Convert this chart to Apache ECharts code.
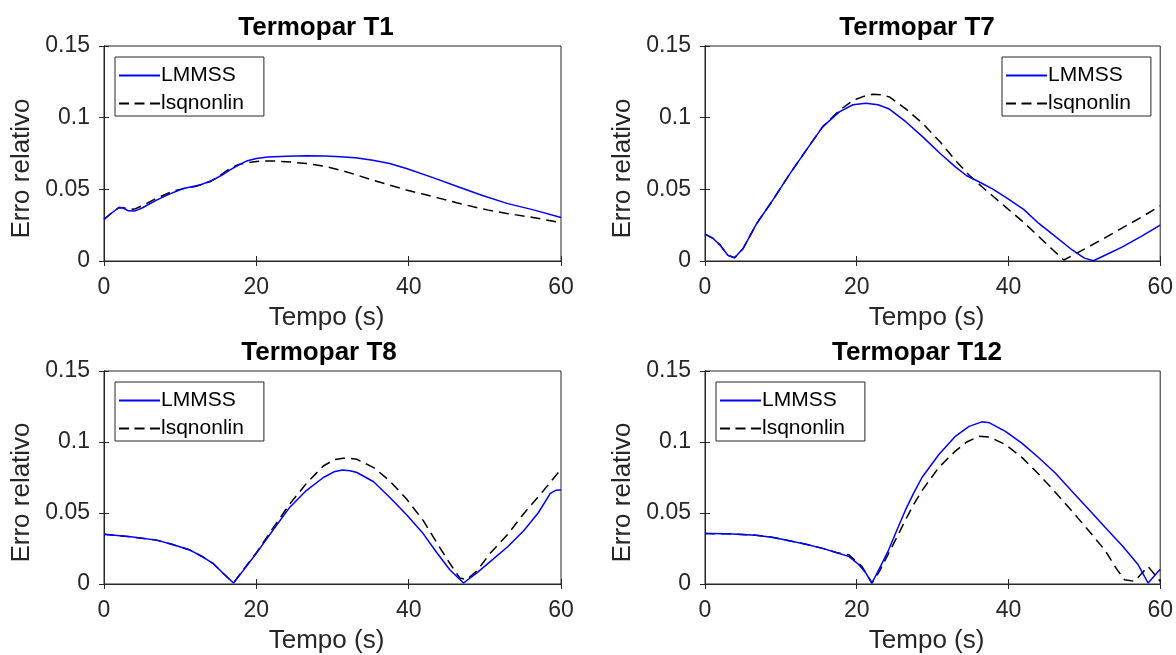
<!DOCTYPE html>
<html>
<head>
<meta charset="utf-8">
<script src="https://cdn.jsdelivr.net/npm/echarts@6/dist/echarts.min.js"></script>
<style>
html,body{margin:0;padding:0;background:#fff;}
#chart{width:1176px;height:655px;}
</style>
</head>
<body>
<div id="chart"></div>
<script>
// ---- Data ----
const titles = ['Termopar T1', 'Termopar T7', 'Termopar T8', 'Termopar T12'];
const seriesNames = ['LMMSS', 'lsqnonlin'];
const xTickLabels = ['0', '20', '40', '60'];
const xTickValues = [0, 20, 40, 60];
const yTickLabels = ['0', '0.05', '0.1', '0.15'];
const yTickValues = [0, 0.05, 0.1, 0.15];
const xName = 'Tempo (s)';
const yName = 'Erro relativo';

// Termopar T1
const t1LmT = [0, 1, 2, 2.5, 3.2, 4, 5, 6.9, 8.5, 10.4, 12.6, 14.3, 15.5, 16.5, 17.6, 18.7, 20, 21.5, 24, 26.6, 29, 31, 33, 35.3, 37.5, 39.7, 43, 46.3, 49.5, 52.9, 56.5, 60];
const t1LmV = [0.029, 0.0335, 0.0374, 0.037, 0.035, 0.0348, 0.037, 0.0425, 0.0465, 0.0506, 0.053, 0.0564, 0.06, 0.0634, 0.0668, 0.0697, 0.0715, 0.0725, 0.0731, 0.0734, 0.0732, 0.0727, 0.072, 0.0703, 0.068, 0.0645, 0.0585, 0.0522, 0.046, 0.0402, 0.0355, 0.0304];
const t1LsT = [0, 1, 2, 2.5, 3.4, 4, 5, 6.9, 9.1, 10.5, 12.1, 13.9, 15.2, 16.5, 17.6, 18.7, 20, 21.5, 22.6, 24.5, 26.6, 29, 31, 33, 35.3, 37.5, 39.7, 42, 44.1, 46.3, 48.5, 50.5, 52.9, 56.5, 60];
const t1LsV = [0.029, 0.0335, 0.0374, 0.0372, 0.036, 0.0362, 0.0385, 0.0437, 0.0488, 0.0505, 0.0522, 0.0553, 0.0595, 0.0645, 0.0672, 0.0685, 0.0695, 0.0698, 0.0697, 0.069, 0.068, 0.066, 0.0634, 0.0603, 0.0564, 0.053, 0.0495, 0.0465, 0.0437, 0.0407, 0.0378, 0.0355, 0.0332, 0.0302, 0.0267];

// Termopar T7
const t7LmT = [0, 1, 2, 3, 3.9, 5, 6.8, 9, 11.2, 13.3, 15.5, 17.7, 19.5, 21.2, 22.8, 24.3, 26.5, 28.7, 31, 33, 34.5, 36.1, 38, 39.6, 42, 44, 46.2, 48.4, 50, 51.2, 53, 54.9, 57.5, 60];
const t7LmV = [0.0188, 0.016, 0.0111, 0.004, 0.0023, 0.0085, 0.026, 0.043, 0.061, 0.077, 0.0936, 0.104, 0.109, 0.110, 0.109, 0.106, 0.097, 0.0866, 0.075, 0.0657, 0.0595, 0.0553, 0.050, 0.0445, 0.036, 0.0262, 0.017, 0.0077, 0.002, 0.0002, 0.0047, 0.0095, 0.0172, 0.025];
const t7LsT = [0, 1, 2, 3, 3.9, 5, 6.8, 9, 11.2, 13.3, 15.5, 17.7, 19.5, 21, 22.1, 23.2, 24.3, 26.5, 28.7, 31, 33, 34.8, 36.5, 38, 39.6, 42, 44, 45.8, 47.3, 49, 50.6, 53, 54.9, 57.5, 60];
const t7LsV = [0.0188, 0.016, 0.0111, 0.004, 0.0023, 0.0085, 0.026, 0.043, 0.061, 0.077, 0.0936, 0.105, 0.112, 0.115, 0.1163, 0.116, 0.1145, 0.106, 0.0959, 0.083, 0.0703, 0.060, 0.0518, 0.045, 0.0378, 0.027, 0.017, 0.008, 0.0007, 0.0055, 0.010, 0.017, 0.0228, 0.0305, 0.0385];

// Termopar T8
const t8LmT = [0, 3.5, 6.9, 9, 11.3, 13, 14.3, 15.6, 17, 18.5, 20, 22.2, 24.4, 26.6, 28.8, 30.2, 31.3, 32.3, 33.2, 35.4, 37.5, 39.7, 41.9, 43.7, 45.4, 47.2, 49, 50.7, 53, 55.1, 57, 58.6, 59.3, 60];
const t8LmV = [0.0351, 0.0332, 0.0309, 0.0278, 0.0239, 0.019, 0.0146, 0.0077, 0.0007, 0.011, 0.0216, 0.038, 0.0541, 0.066, 0.075, 0.079, 0.0803, 0.0798, 0.0785, 0.072, 0.0611, 0.049, 0.0355, 0.022, 0.010, 0.0007, 0.008, 0.0158, 0.0262, 0.0375, 0.050, 0.0638, 0.066, 0.0662];
const t8LsT = [0, 3.5, 6.9, 9, 11.3, 13, 14.3, 15.6, 17, 18.5, 20, 22.2, 24.4, 26.6, 28.8, 30.2, 31.4, 32.3, 33.2, 35.4, 37.5, 39.7, 41.9, 43.7, 45.4, 46.7, 47.6, 49, 50.7, 53, 55.1, 57.5, 60];
const t8LsV = [0.0351, 0.0332, 0.0309, 0.0278, 0.0239, 0.019, 0.0146, 0.0077, 0.0007, 0.0115, 0.022, 0.0395, 0.0564, 0.071, 0.0831, 0.0875, 0.0885, 0.0884, 0.0878, 0.082, 0.0727, 0.060, 0.0448, 0.029, 0.0146, 0.0042, 0.003, 0.0095, 0.0216, 0.035, 0.0495, 0.0645, 0.0808];

// Termopar T12
const t12LmT = [0, 3, 6.7, 9, 11.1, 13.3, 15.5, 17.3, 19, 20.2, 21.2, 22, 23, 24.2, 25.3, 26.4, 27.5, 28.6, 30.8, 33, 34.8, 36.5, 37.5, 39.6, 41.8, 44, 46.2, 48.3, 50.5, 52.7, 55, 57.1, 58.4, 60];
const t12LmV = [0.0355, 0.0353, 0.0344, 0.0328, 0.0304, 0.028, 0.0251, 0.0222, 0.0193, 0.014, 0.0077, 0.0007, 0.011, 0.0239, 0.038, 0.0518, 0.064, 0.075, 0.091, 0.104, 0.111, 0.1142, 0.1135, 0.1075, 0.099, 0.0889, 0.078, 0.0657, 0.053, 0.0402, 0.027, 0.0135, 0.0007, 0.0104];
const t12LsT = [0, 3, 6.7, 9, 11.1, 13.3, 15.5, 17.3, 19, 20.7, 22, 23, 24.2, 25.3, 26.4, 27.5, 28.6, 30.8, 33, 34.5, 36.1, 37.5, 39.6, 41.8, 44, 46.2, 48.3, 50.5, 52.7, 54.2, 55.3, 56.6, 58.4, 60];
const t12LsV = [0.0355, 0.0353, 0.0344, 0.0328, 0.0304, 0.028, 0.0251, 0.0222, 0.0204, 0.0123, 0.0007, 0.009, 0.0216, 0.033, 0.0448, 0.056, 0.0657, 0.082, 0.0936, 0.100, 0.104, 0.1035, 0.0982, 0.089, 0.0773, 0.0645, 0.0518, 0.038, 0.0239, 0.011, 0.003, 0.0019, 0.0123, 0.0019];

const panelData = [
  [[t1LmT, t1LmV], [t1LsT, t1LsV]],
  [[t7LmT, t7LmV], [t7LsT, t7LsV]],
  [[t8LmT, t8LmV], [t8LsT, t8LsV]],
  [[t12LmT, t12LmV], [t12LsT, t12LsV]]
];

// ---- Layout ----
const FONT = '"Liberation Sans", Arial, Helvetica, sans-serif';
const AX = '#262626';
const grids = [
  {left: 104, top: 46, width: 457, height: 215},
  {left: 705, top: 46, width: 457, height: 215},
  {left: 104, top: 371, width: 457, height: 215},
  {left: 705, top: 371, width: 457, height: 215}
];
const titlePos = [{x: 311, y: 10}, {x: 912, y: 10}, {x: 314, y: 335}, {x: 912, y: 335}];
const legendPos = [
  {left: 115, top: 57}, {left: 1002, top: 57},
  {left: 115, top: 382}, {left: 716, top: 382}
];

const option = {
  animation: false,
  backgroundColor: '#ffffff',
  title: [], grid: [], xAxis: [], yAxis: [], legend: [], series: []
};

function fmt(vals, labels) {
  return function (v) {
    for (let i = 0; i < vals.length; i++) if (Math.abs(vals[i] - v) < 1e-9) return labels[i];
    return '';
  };
}

grids.forEach((g, i) => {
  option.grid.push(Object.assign({show: true, borderColor: AX, borderWidth: 1, backgroundColor: '#fff'}, g));
  option.title.push({
    text: titles[i], left: titlePos[i].x, top: titlePos[i].y, textAlign: 'center',
    textStyle: {fontFamily: FONT, fontWeight: 'bold', fontSize: 26, color: '#000'}
  });
  option.xAxis.push({
    type: 'value', gridIndex: i, min: 0, max: 60, interval: 20, position: 'bottom',
    name: xName, nameLocation: 'middle', nameGap: 44,
    nameTextStyle: {fontFamily: FONT, fontSize: 26, color: AX, padding: [0, 12, 0, 0]},
    axisLine: {show: true, lineStyle: {color: AX, width: 1}},
    axisTick: {show: true, inside: true, length: 5, lineStyle: {color: AX}},
    axisLabel: {fontFamily: FONT, fontSize: 23, color: AX, margin: 15, formatter: fmt(xTickValues, xTickLabels)},
    splitLine: {show: false}
  });
  option.xAxis.push({
    type: 'value', gridIndex: i, min: 0, max: 60, interval: 20, position: 'top',
    axisLine: {show: true, lineStyle: {color: AX, width: 1}},
    axisTick: {show: true, inside: true, length: 5, lineStyle: {color: AX}},
    axisLabel: {show: false}, splitLine: {show: false}
  });
  option.yAxis.push({
    type: 'value', gridIndex: i, min: 0, max: 0.15, interval: 0.05, position: 'left',
    name: yName, nameLocation: 'middle', nameGap: 69,
    nameTextStyle: {fontFamily: FONT, fontSize: 26, color: AX, padding: [0, 30, 0, 0]},
    axisLine: {show: true, lineStyle: {color: AX, width: 1}},
    axisTick: {show: true, inside: true, length: 5, lineStyle: {color: AX}},
    axisLabel: {fontFamily: FONT, fontSize: 23, color: AX, margin: 14, padding: [3, 0, 0, 0], formatter: fmt(yTickValues, yTickLabels)},
    splitLine: {show: false}
  });
  option.yAxis.push({
    type: 'value', gridIndex: i, min: 0, max: 0.15, interval: 0.05, position: 'right',
    axisLine: {show: true, lineStyle: {color: AX, width: 1}},
    axisTick: {show: true, inside: true, length: 5, lineStyle: {color: AX}},
    axisLabel: {show: false}, splitLine: {show: false}
  });
  option.legend.push({
    orient: 'vertical', left: legendPos[i].left, top: legendPos[i].top,
    data: [
      {name: seriesNames[0]},
      {name: seriesNames[1], lineStyle: {type: [10, 5.5]}}
    ],
    backgroundColor: '#fff', borderColor: AX, borderWidth: 1,
    padding: [8, 20, 2, 3], itemGap: 7, itemWidth: 41, itemHeight: 14,
    itemStyle: {opacity: 0},
    textStyle: {fontFamily: FONT, fontSize: 21, color: '#000', padding: [0, 0, 0, -4]},
    selectedMode: false
  });
  const d = panelData[i];
  option.series.push({
    name: seriesNames[0], type: 'line', xAxisIndex: 2 * i, yAxisIndex: 2 * i,
    data: d[0][0].map((t, k) => [t, d[0][1][k]]),
    symbol: 'none', smooth: false, z: 3,
    lineStyle: {color: '#0000ff', width: 1.5, type: 'solid'},
    itemStyle: {color: '#0000ff'}
  });
  option.series.push({
    name: seriesNames[1], type: 'line', xAxisIndex: 2 * i, yAxisIndex: 2 * i,
    data: d[1][0].map((t, k) => [t, d[1][1][k]]),
    symbol: 'none', smooth: false, z: 2,
    lineStyle: {color: '#000000', width: 1.5, type: [10, 6]},
    itemStyle: {color: '#000000'}
  });
});

const chart = echarts.init(document.getElementById('chart'), null, {renderer: 'canvas'});
chart.setOption(option);
</script>
</body>
</html>
